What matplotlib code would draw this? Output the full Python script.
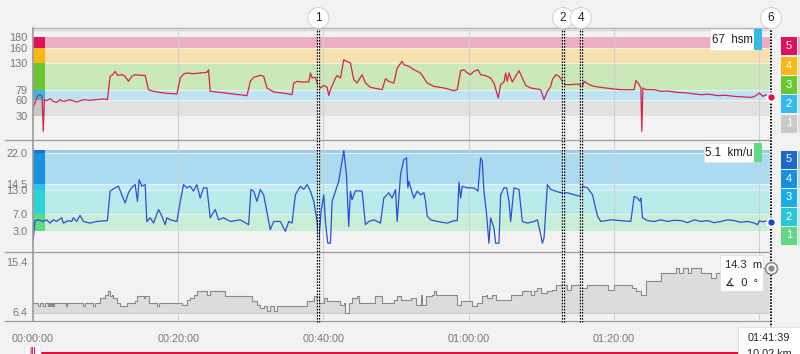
import matplotlib
matplotlib.use("Agg")
import matplotlib.pyplot as plt
import matplotlib.transforms as mtransforms
from matplotlib.patches import Rectangle, FancyBboxPatch

plt.rcParams["font.family"] = ["Liberation Sans", "DejaVu Sans"]
plt.rcParams["lines.scale_dashes"] = False

# ---- data, time in minutes ----
hr_samples = [
    (0.0, 46.6), (0.28, 54.8), (0.60, 67.4), (0.96, 70.6), (1.24, 67.4), (1.42, 1.0),
    (1.56, 61.1), (1.88, 59.2), (2.35, 63.0), (2.80, 57.9), (3.26, 56.0), (3.72, 61.1),
    (4.18, 57.9), (4.64, 59.2), (5.10, 61.1), (6.02, 56.7), (6.94, 61.1), (7.86, 60.0),
    (8.78, 61.1), (9.70, 62.4), (10.25, 61.1),
    (10.62, 105.4), (10.99, 108.5), (11.31, 114.9), (11.63, 107.3), (12.23, 108.5),
    (12.69, 105.4), (13.15, 95.9), (13.61, 105.4), (14.07, 108.5), (14.76, 107.3),
    (15.45, 107.3), (15.91, 80.1), (16.60, 76.9), (17.98, 73.8), (19.82, 71.9),
    (20.28, 102.2), (20.74, 109.8), (21.20, 111.7), (22.11, 110.4), (23.03, 111.7),
    (23.95, 113.0), (24.18, 118.0), (24.41, 76.9), (25.33, 75.7), (27.17, 72.5), (29.47, 68.7),
    (29.93, 95.9), (30.39, 103.5), (31.31, 107.3), (31.77, 105.4), (32.23, 83.3),
    (33.15, 75.7), (34.99, 72.5), (35.68, 70.6),
    (35.91, 92.7), (36.37, 95.9), (37.06, 94.6), (37.98, 94.6), (38.21, 111.7), (38.44, 102.2),
    (38.90, 103.5), (39.13, 92.7), (39.59, 83.3), (40.05, 88.3), (40.51, 84.5), (40.74, 69.3),
    (40.97, 80.1), (41.66, 102.2), (41.89, 106.7), (42.35, 102.2), (42.81, 137.0),
    (43.17, 133.9), (43.72, 130.7), (44.18, 99.1), (44.64, 92.7), (45.33, 108.5), (45.79, 92.7),
    (46.48, 84.5), (48.09, 80.1), (48.55, 101.0), (49.01, 95.9), (49.70, 92.7), (50.16, 121.2),
    (50.85, 133.9), (51.08, 127.5), (51.77, 124.4), (52.46, 118.0), (53.38, 111.7),
    (53.84, 102.2), (54.30, 92.7), (55.22, 86.4), (56.60, 83.3), (57.98, 78.2), (58.44, 80.1),
    (58.90, 116.1), (59.36, 118.0), (59.82, 111.7), (60.27, 108.5), (60.73, 114.9),
    (61.29, 118.0), (61.65, 108.5), (62.34, 106.7), (63.03, 102.2), (63.49, 92.7), (64.09, 64.3),
    (64.41, 89.6), (64.87, 94.6), (65.10, 111.7), (65.33, 95.9), (65.56, 111.7), (66.02, 94.6),
    (66.48, 105.4), (66.94, 116.1), (67.40, 102.2), (67.86, 88.3), (68.55, 83.3), (69.93, 80.1),
    (70.39, 61.1), (70.85, 76.9), (71.31, 86.4), (71.54, 99.1), (72.00, 108.5), (72.46, 105.4),
    (72.92, 95.9), (73.24, 89.6), (74.07, 89.6), (74.99, 90.8), (75.68, 86.4), (75.91, 95.9),
    (76.60, 89.6), (77.29, 86.4), (78.21, 84.5), (79.59, 82.0), (80.97, 80.1), (82.80, 80.1),
    (83.03, 97.2), (83.36, 92.7), (83.72, 83.3), (83.86, 1.0), (84.00, 83.3), (84.41, 80.1),
    (85.56, 80.1), (86.48, 76.9), (87.40, 77.5), (88.32, 75.7), (89.20, 74.5), (90.16, 73.8),
    (91.10, 72.0), (92.00, 70.6), (93.10, 71.5), (94.30, 68.7), (95.40, 69.5), (96.60, 67.4),
    (97.70, 66.5), (98.90, 65.5), (99.50, 68.0), (100.05, 73.8), (100.51, 67.4),
    (100.97, 70.6), (101.30, 66.0), (101.65, 67.0),
]

speed_samples = [
    (0.0, 0.5), (0.28, 5.5), (0.74, 5.7), (1.42, 5.3), (1.88, 5.7), (2.35, 4.9), (2.80, 5.7),
    (3.26, 5.3), (3.95, 6.2), (4.18, 4.9), (4.87, 5.5), (5.33, 5.3), (5.56, 6.2), (6.02, 5.3),
    (6.48, 6.8), (6.94, 5.3), (7.86, 4.9), (8.78, 5.3), (10.25, 5.5),
    (10.62, 12.7), (11.31, 13.5), (11.77, 13.9), (12.23, 11.8), (12.69, 9.8), (13.15, 12.3),
    (13.61, 13.6), (14.07, 14.3), (14.39, 10.2), (14.62, 15.5), (14.99, 13.9), (15.45, 14.3),
    (15.68, 5.3), (16.14, 6.2), (16.60, 4.9), (17.29, 8.2), (17.75, 6.6), (18.21, 4.5),
    (18.44, 6.2), (18.90, 5.7), (19.82, 5.3),
    (20.28, 10.2), (20.74, 14.3), (21.20, 13.5), (21.65, 13.9), (22.11, 12.7), (22.57, 14.3),
    (23.03, 11.0), (23.49, 13.5), (23.95, 13.5), (24.41, 6.2), (25.10, 8.2), (25.56, 5.7),
    (26.25, 6.2), (27.17, 5.3), (28.55, 5.7), (29.70, 4.5),
    (30.02, 13.1), (30.39, 12.7), (30.85, 10.2), (31.31, 13.1), (31.77, 11.8), (32.46, 5.3),
    (32.69, 3.3), (33.15, 5.3), (34.07, 5.3), (34.76, 2.9), (35.22, 5.3), (35.68, 4.9),
    (36.14, 11.8), (36.83, 13.9), (37.29, 13.1), (37.75, 14.3), (38.21, 12.7), (38.67, 10.2),
    (39.13, 5.3), (39.36, 0.5), (39.68, 7.8), (40.05, 11.8), (40.28, 5.3), (40.60, 0.0),
    (40.97, 0.0), (41.20, 10.2), (41.66, 12.7), (42.11, 15.1), (42.57, 20.0), (42.81, 22.6),
    (43.17, 16.7), (43.49, 4.1), (43.72, 12.7), (43.95, 10.6), (44.41, 12.8), (45.33, 12.7),
    (45.79, 4.5), (46.25, 5.3), (46.94, 5.7), (47.86, 4.9),
    (48.32, 11.0), (49.01, 12.3), (49.47, 11.0), (49.93, 13.1), (50.16, 5.3), (50.62, 16.7),
    (51.08, 20.4), (51.45, 20.8), (51.63, 13.5), (51.77, 15.1), (52.23, 12.3), (52.46, 11.0),
    (52.92, 12.7), (53.38, 11.8), (53.84, 12.3), (54.07, 10.2), (54.30, 6.6), (54.76, 5.7),
    (55.68, 5.3), (57.06, 4.9), (57.98, 5.5), (58.44, 5.5),
    (58.67, 14.9), (58.90, 11.0), (59.13, 13.9), (59.82, 13.5), (60.73, 13.5), (61.29, 12.7),
    (61.65, 20.8), (61.88, 20.0), (62.11, 12.7), (62.48, 7.0), (62.80, 0.0), (63.03, 6.2),
    (63.49, 3.7), (63.72, 0.0), (64.18, 0.0), (64.41, 11.8), (64.87, 13.5), (65.24, 13.5),
    (65.56, 10.2), (65.79, 5.3), (66.25, 13.5), (66.94, 13.1), (67.40, 5.3), (68.09, 4.9),
    (69.01, 5.3), (69.47, 5.7), (69.93, 2.1), (70.16, 0.0), (70.39, 1.3),
    (70.85, 14.3), (71.31, 13.1), (72.00, 12.7), (72.69, 12.3), (73.61, 12.3), (74.53, 11.8),
    (75.45, 11.4), (75.68, 13.9), (76.37, 13.5), (77.06, 11.8), (77.75, 6.6), (78.21, 5.3),
    (79.59, 5.7), (80.97, 5.5), (82.34, 5.3), (82.80, 11.4), (83.26, 11.0), (83.63, 10.2),
    (83.72, 11.0), (83.95, 6.2), (84.64, 5.5), (85.56, 5.3), (86.48, 5.7), (87.40, 5.3),
    (88.32, 5.6), (89.24, 5.5), (90.16, 5.0), (91.08, 5.7), (92.00, 5.3), (92.92, 5.5),
    (93.80, 5.0), (94.76, 5.3), (95.70, 5.7), (96.60, 5.5), (97.50, 5.1), (98.44, 5.3),
    (99.36, 4.9), (99.80, 4.5), (100.05, 5.5), (100.50, 5.2), (101.00, 5.4), (101.65, 5.1),
]

altitude_samples = [
    (0.0, 8.02), (0.74, 7.42), (0.9, 8.02), (1.42, 7.42), (1.6, 8.02), (2.11, 7.42), (2.2, 8.02),
    (2.35, 7.42), (2.45, 8.02), (2.57, 7.42), (2.7, 8.02), (2.80, 7.42), (2.9, 8.02),
    (4.55, 7.42), (4.7, 8.02), (6.94, 7.42), (7.1, 8.02), (8.32, 7.42), (8.5, 8.02),
    (9.24, 8.92), (9.93, 9.52), (10.39, 10.12), (10.62, 9.22), (10.85, 9.52), (11.08, 8.92),
    (11.54, 8.02), (12.0, 7.42), (12.92, 8.02), (14.07, 8.32), (14.30, 9.22), (15.22, 8.92),
    (15.45, 9.22), (15.91, 8.02), (17.06, 7.42), (17.29, 8.02), (20.51, 7.72), (21.20, 8.62),
    (21.65, 8.92), (22.11, 9.52), (22.57, 10.12), (23.95, 9.52), (24.41, 10.12), (26.48, 9.34),
    (30.16, 8.32), (30.85, 7.72), (31.31, 7.12), (31.77, 7.42), (32.23, 6.52), (32.69, 7.42),
    (33.15, 6.52), (33.61, 7.42), (37.75, 8.32), (38.67, 9.22), (39.36, 8.02), (40.05, 8.92),
    (40.51, 8.32), (42.35, 7.72), (42.81, 8.02), (43.03, 6.22), (43.49, 8.02), (43.95, 8.92),
    (44.64, 9.22), (44.87, 8.02), (47.17, 9.22), (48.09, 8.02), (49.70, 8.62), (50.16, 9.22),
    (50.62, 8.62), (52.0, 8.92), (52.69, 7.72), (53.38, 9.52), (53.61, 7.72), (54.07, 9.22),
    (54.99, 9.52), (55.22, 10.12), (55.45, 9.52), (58.44, 7.72), (58.90, 8.32), (60.51, 7.42),
    (61.19, 8.02), (61.88, 9.22), (62.34, 9.52), (62.57, 8.92), (63.26, 9.52), (63.72, 8.62),
    (65.79, 9.52), (67.40, 10.12), (68.55, 9.52), (69.01, 10.12), (69.47, 10.72), (69.93, 9.82),
    (70.85, 10.12), (71.54, 10.42), (72.0, 11.32), (73.61, 10.42), (74.07, 11.32),
    (75.45, 10.72), (76.37, 11.32), (79.13, 10.42), (80.05, 11.32), (82.57, 10.72),
    (83.03, 10.12), (83.72, 9.52), (84.41, 11.92), (86.48, 13.42), (88.55, 14.32),
    (89.01, 13.42), (89.47, 14.32), (90.16, 13.42), (90.62, 14.32), (92.0, 13.42),
    (93.38, 12.52), (94.07, 13.42), (94.76, 14.32), (98.67, 13.42), (100.05, 14.32),
    (101.65, 14.32),
]

hr_zone_edges = [30, 60, 79, 130, 160, 180]
hr_zone_fill = ["#e1e1e1", "#bfe3f3", "#cae8b8", "#f7e2af", "#ebaec6"]
hr_zone_strong = ["#c9c9c9", "#35b9ea", "#67c830", "#fbb716", "#e0115b"]

speed_zone_edges = [3.0, 7.0, 13.0, 14.5, 22.0, 22.8]
speed_zone_fill = ["#c9eed8", "#b9ebeb", "#c3ebf6", "#acdaef", "#a2c7e7"]
speed_zone_strong = ["#5fd982", "#2ed3d7", "#27c2f2", "#1991e0", "#1b6fd1"]
speed_legend = ["#62d887", "#2cc7d4", "#17aee8", "#1a8fe0", "#1b6acb"]

hr_ticks = [30, 60, 79, 130, 160, 180]
speed_ticks = [3.0, 7.0, 13.0, 14.5, 22.0]
alt_ticks = [6.4, 15.4]
time_ticks = [0, 20, 40, 60, 80]
time_labels = ["00:00:00", "00:20:00", "00:40:00", "01:00:00", "01:20:00"]
grid_times = [20, 40, 60, 80, 100]

lap_times = [39.3, 73.0, 75.45]
lap_labels = ["1", "2", "4"]
end_time = 101.65
end_label = "6"

hr_now = 67
speed_now = 5.1
alt_now = 14.3
slope_now = 0
dist_now = 10.02
clock_now = "01:41:39"

BG = "#f2f2f2"
W, H = 800, 354

fig = plt.figure(figsize=(W / 100, H / 100), dpi=100, facecolor=BG)


def px_axes(x0, y0, x1, y1):
    # axes placed by pixel box (top-left origin)
    return fig.add_axes([x0 / W, 1 - y1 / H, (x1 - x0) / W, (y1 - y0) / H])


ax_hr = px_axes(33, 28, 771, 140)
ax_sp = px_axes(33, 140, 771, 252)
ax_al = px_axes(33, 252, 771, 320)

ax_hr.set_ylim(-15.4, 197.1)
ax_sp.set_ylim(-2.15, 25.17)
ax_al.set_ylim(4.96, 17.2)

strip = 12 / 738
for ax in (ax_hr, ax_sp, ax_al):
    ax.set_facecolor(BG)
    ax.set_xlim(0, end_time)
    for s in ax.spines.values():
        s.set_visible(False)
    ax.tick_params(axis="both", length=0, labelsize=7.8, labelcolor="#777777", pad=4)
    ax.set_xticks([])
    for g in grid_times:
        ax.axvline(g, color="#d0d0d0", lw=0.8, zorder=1)

# heart-rate zones (zone 5 runs 160-180)
for i in range(len(hr_zone_fill)):
    lo, hi = hr_zone_edges[i], hr_zone_edges[i + 1]
    ax_hr.axhspan(lo, hi, color=hr_zone_fill[i], lw=0, zorder=0)
    ax_hr.axhspan(lo, hi, xmax=strip, color=hr_zone_strong[i], lw=0, zorder=0.6)
for e in hr_zone_edges[1:-1]:
    ax_hr.axhline(e, color="white", lw=0.7, alpha=0.6, zorder=0.5)

# speed zones
for i in range(len(speed_zone_fill)):
    lo, hi = speed_zone_edges[i], speed_zone_edges[i + 1]
    ax_sp.axhspan(lo, hi, color=speed_zone_fill[i], lw=0, zorder=0)
    ax_sp.axhspan(lo, hi, xmax=strip, color=speed_zone_strong[i], lw=0, zorder=0.6)
for e in speed_zone_edges[1:-1]:
    ax_sp.axhline(e, color="white", lw=0.7, alpha=0.6, zorder=0.5)

hr_t, hr_v = zip(*hr_samples)
sp_t, sp_v = zip(*speed_samples)
al_t, al_v = zip(*altitude_samples)

ax_hr.plot(hr_t, hr_v, color="#d9234b", lw=0.9, zorder=3)
ax_sp.plot(sp_t, sp_v, color="#2b4fd9", lw=0.9, zorder=3)
ax_al.fill_between(al_t, al_v, 6.25, step="post", color="#dcdcdc", lw=0, zorder=2)
ax_al.step(al_t, al_v, where="post", color="#8a8a8a", lw=0.8, zorder=3)
ax_al.axhline(6.25, color="#cdcdcd", lw=0.8, zorder=2)

ax_hr.set_yticks(hr_ticks, [str(v) for v in hr_ticks])
ax_sp.set_yticks(speed_ticks, [f"{v:.1f}" for v in speed_ticks])
ax_al.set_yticks(alt_ticks, [f"{v:.1f}" for v in alt_ticks])
ax_al.set_xticks(time_ticks, time_labels)
ax_al.tick_params(axis="x", labelsize=7.8, pad=10)

# ---- overlay in pixel coords for frame, laps and tooltips ----
ov = fig.add_axes([0, 0, 1, 1], zorder=10)
ov.set_xlim(0, W)
ov.set_ylim(H, 0)
ov.axis("off")
ov.patch.set_visible(False)

ov.plot([33, 771], [27.5, 27.5], color="#b4b4b4", lw=1)
ov.plot([33, 771], [29.6, 29.6], color="#d6d6d6", lw=1)
for y in (140, 252, 320.5):
    ov.plot([5, 771], [y, y], color="#9c9c9c", lw=0.9)
ov.plot([33, 33], [27.5, 321], color="#9a9a9a", lw=1.2)

circle_box = dict(boxstyle="circle,pad=0.38", fc="white", ec="#cfcfcf", lw=0.7)
lap_tr = mtransforms.blended_transform_factory(ax_hr.transData, ov.transData)
for t, lab in zip(lap_times, lap_labels):
    ov.plot([t, t], [12, 322], transform=lap_tr, color="black", lw=2.4,
            ls=(0, (1.1, 1.1)), zorder=5)
    ov.plot([t, t], [12, 322], transform=lap_tr, color="white", lw=0.55, zorder=5)
    ov.text(t, 18, lab, transform=lap_tr, ha="center", va="center", fontsize=8.5,
            color="#222222", zorder=9, bbox=circle_box)
ov.plot([end_time, end_time], [12, 330], transform=lap_tr, color="white", lw=1.6, zorder=5)
ov.plot([end_time, end_time], [12, 330], transform=lap_tr, color="black", lw=1.4,
        ls=(0, (1.1, 1.1)), zorder=5)
ov.text(end_time, 18, end_label, transform=lap_tr, ha="center", va="center", fontsize=8.5,
        color="#222222", zorder=9, bbox=circle_box)

# current-value dots
ov.plot(end_time, hr_now, "o", transform=ax_hr.transData, ms=6, mfc="#e0103a",
        mec="white", mew=1.5, zorder=8, clip_on=False)
ov.plot(end_time, speed_now, "o", transform=ax_sp.transData, ms=6, mfc="#1f3fd0",
        mec="white", mew=1.5, zorder=8, clip_on=False)
ov.plot(end_time, alt_now, "o", transform=ax_al.transData, ms=8.5, mfc="white",
        mec="#8a8a8a", mew=1.2, zorder=8, clip_on=False)
ov.plot(end_time, alt_now, "o", transform=ax_al.transData, ms=3.5, mfc="#8a8a8a",
        mec="#8a8a8a", zorder=9, clip_on=False)

# zone legend boxes at the right
for i, c in enumerate(hr_zone_strong):
    yc = 123.5 - i * 19.3
    ov.add_patch(Rectangle((781, yc - 9), 16, 18, fc=c, ec="none", zorder=6))
    ov.add_patch(Rectangle((798, yc - 9), 3, 18, fc=hr_zone_fill[i], ec="none", zorder=6))
    ov.text(789, yc, str(i + 1), ha="center", va="center", fontsize=8, color="white", zorder=7)
for i, c in enumerate(speed_legend):
    yc = 235.5 - i * 19
    ov.add_patch(Rectangle((781, yc - 9), 16, 18, fc=c, ec="none", zorder=6))
    ov.add_patch(Rectangle((798, yc - 9), 3, 18, fc=speed_zone_fill[i], ec="none", zorder=6))
    ov.text(789, yc, str(i + 1), ha="center", va="center", fontsize=8, color="white", zorder=7)

# tooltips
ov.add_patch(Rectangle((710, 29), 44, 21, fc="white", ec="#e2e2e2", lw=0.5, zorder=6))
ov.add_patch(Rectangle((754, 29), 8, 21, fc="#35b9ea", ec="none", zorder=6))
ov.text(733, 40, f"{hr_now}  hsm", ha="center", va="center", fontsize=8.3, color="#222222", zorder=7)

ov.add_patch(Rectangle((704, 143), 50, 19, fc="white", ec="#e2e2e2", lw=0.5, zorder=6))
ov.add_patch(Rectangle((754, 143), 8, 19, fc="#62d887", ec="none", zorder=6))
ov.text(729, 152.5, f"{speed_now}  km/u", ha="center", va="center", fontsize=8.3,
        color="#222222", zorder=7)

ov.add_patch(Rectangle((720, 255), 43, 36, fc="white", ec="#dddddd", lw=0.6, zorder=6))
ov.text(725, 265, f"{alt_now}  m", ha="left", va="center", fontsize=8, color="#222222", zorder=7)
ov.text(725, 282, f"\u2221  {slope_now}  \u00b0", ha="left", va="center", fontsize=8,
        color="#222222", zorder=7)

# scrubber bar and time box
ov.add_patch(Rectangle((33, 351.5), 738, 3, fc="#e0103a", ec="none", zorder=6))
ov.add_patch(FancyBboxPatch((25, 345), 16, 12, boxstyle="round,pad=0,rounding_size=3",
                            fc="white", ec="#dddddd", lw=0.5, zorder=7))
ov.text(32.5, 351, "|||", ha="center", va="center", fontsize=5.5, color="#e0103a",
        fontweight="bold", zorder=8)
ov.add_patch(Rectangle((738, 327), 64, 30, fc="white", ec="#dddddd", lw=0.6, zorder=6))
ov.text(769, 338, clock_now, ha="center", va="center", fontsize=7.8, color="#222222", zorder=7)
ov.text(769, 349, f"{dist_now:.2f} km", ha="center", va="top", fontsize=7.8,
        color="#222222", zorder=7)

fig.savefig("out.png", dpi=100, facecolor=BG)
